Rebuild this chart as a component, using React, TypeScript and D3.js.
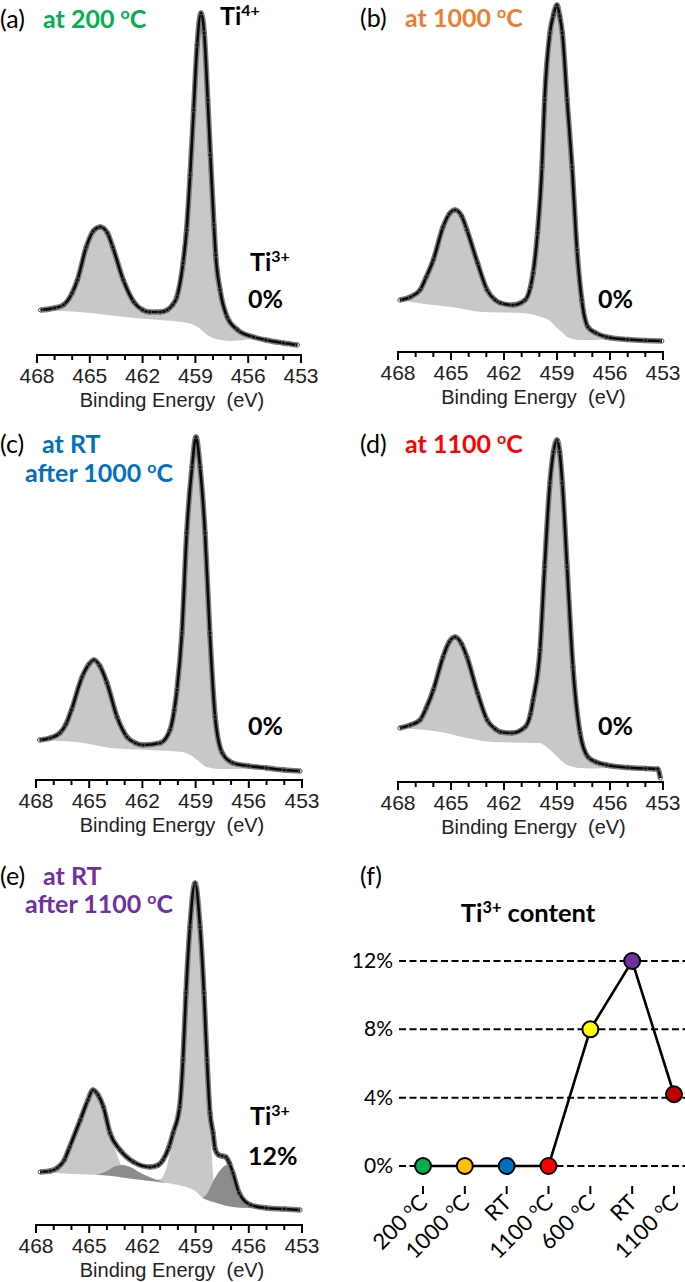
import React from 'react';
import * as d3 from 'd3';

// ---- (a) at 200 C ----
const energyA = [467.8, 467.0, 466.5, 466.0, 465.7, 465.2, 464.8, 464.4, 464.0, 463.7, 463.1, 462.5, 462.0, 461.6, 461.0, 460.6, 460.3, 460.05, 459.7, 459.5, 459.3, 459.1, 458.9, 458.68, 458.5, 458.3, 458.15, 457.95, 457.85, 457.6, 457.2, 456.6, 455.7, 455.0, 454.0, 453.2];
const countsA = [45, 47, 50, 62, 75, 108, 124, 128, 122, 108, 75, 53, 45, 43, 43, 45, 50, 58, 92, 125, 180, 245, 310, 342, 322, 255, 200, 130, 100, 65, 38, 25, 18, 15, 12, 10];
const bgEnergyA = [467.8, 466.5, 465.0, 464.0, 462.5, 461.0, 459.8, 459.2, 458.8, 458.4, 458.0, 457.5, 457.0, 456.5, 455.7, 455.0, 454.0, 453.2];
const bgA = [45, 44, 42, 40, 37, 35, 33, 31, 27, 21, 17, 15, 14, 14.5, 16, 15, 12, 10];

// ---- (b) at 1000 C ----
const energyB = [467.9, 467.3, 466.75, 466.4, 466.0, 465.45, 465.1, 464.77, 464.4, 464.1, 463.5, 462.96, 462.5, 462.2, 461.5, 460.8, 460.5, 460.35, 460.1, 459.85, 459.7, 459.4, 459.2, 459.0, 458.85, 458.7, 458.43, 458.15, 457.87, 457.6, 457.25, 456.8, 456.2, 455.0, 454.0, 453.06];
const countsB = [52, 55, 62, 75, 92, 125, 138, 142, 136, 122, 89, 62, 52, 49, 47, 52, 65, 79, 119, 185, 252, 319, 337, 347, 336, 319, 252, 185, 102, 52, 25, 19, 15, 12.5, 11.5, 11];
const bgEnergyB = [467.9, 466.5, 465.0, 463.2, 461.0, 459.9, 459.4, 459.0, 458.6, 458.43, 457.7, 457.0, 456.2, 455.0, 454.0, 453.06];
const bgB = [50, 48, 45, 40, 39, 35, 31, 24, 18, 15, 12, 12, 12.5, 12.5, 11.5, 11];

// ---- (c) at RT after 1000 C ----
const energyC = [467.8, 467.2, 466.65, 466.3, 466.0, 465.4, 465.0, 464.73, 464.4, 464.0, 463.43, 462.87, 462.4, 461.97, 461.0, 460.44, 460.2, 460.05, 459.77, 459.5, 459.2, 458.98, 458.75, 458.47, 458.2, 457.9, 457.5, 456.9, 456.0, 455.0, 454.0, 453.1];
const countsC = [40, 42, 47, 56, 70, 103, 116, 120, 114, 97, 63, 43, 37, 35, 37, 50, 70, 90, 147, 247, 313, 343, 313, 247, 147, 63, 27, 17, 14, 12, 10, 9];
const bgEnergyC = [467.8, 465.3, 463.8, 461.6, 459.77, 459.3, 458.9, 458.4, 457.6, 456.9, 456.0, 455.0, 454.0, 453.1];
const bgC = [40, 37, 32, 30, 28, 25, 20, 13, 11, 11, 11.5, 11.5, 10, 9];

// ---- (d) at 1100 C ----
const energyD = [467.9, 467.3, 466.75, 466.4, 466.0, 465.45, 465.1, 464.77, 464.4, 464.1, 463.5, 462.96, 462.5, 462.2, 461.55, 460.8, 460.5, 460.35, 459.96, 459.7, 459.4, 459.2, 459.0, 458.85, 458.7, 458.43, 458.1, 457.7, 457.25, 456.8, 456.2, 455.0, 454.0, 453.3, 453.15];
const countsD = [54, 57, 62, 74, 92, 125, 140, 145, 138, 125, 89, 62, 53, 50, 49, 55, 68, 82, 132, 215, 299, 330, 342, 330, 299, 215, 115, 49, 25, 20, 17, 14.5, 13.5, 13, 4];
const bgEnergyD = [467.9, 465.6, 464.1, 462.6, 459.96, 459.6, 459.2, 458.8, 458.43, 457.7, 457.0, 456.2, 455.0, 454.0, 453.3, 453.15];
const bgD = [54, 50, 44, 40, 39, 35, 29, 22, 17, 14, 13.5, 14, 14.5, 13.5, 13, 4];

// ---- (e) at RT after 1100 C ----
const energyE = [467.77, 467.2, 466.8, 466.4, 466.1, 465.5, 465.07, 464.79, 464.5, 464.2, 463.83, 463.26, 462.5, 461.57, 461.1, 460.84, 460.5, 460.27, 459.9, 459.71, 459.54, 459.32, 459.03, 458.75, 458.53, 458.36, 458.19, 458.02, 457.9, 457.7, 457.5, 457.3, 457.1, 456.9, 456.55, 455.9, 455.0, 454.0, 453.1];
const countsE = [53, 54, 57, 65, 78, 105, 125, 135, 130, 118, 92, 75, 63, 58, 60, 65, 78, 92, 118, 165, 232, 298, 342, 298, 232, 165, 112, 92, 76, 70, 69, 68, 62, 52, 32, 20, 17, 16, 15];
const bgEnergyE = [467.77, 466.0, 464.4, 462.5, 460.6, 459.1, 458.6, 457.8, 456.9, 455.9, 455.0, 454.0, 453.1];
const bgE = [53, 51, 50, 46, 42, 35, 27, 22, 18, 17, 16.5, 16, 15];
const ti4EnergyE = [467.77, 466.8, 466.1, 465.5, 465.07, 464.79, 464.5, 464.2, 463.83, 463.5, 463.26, 462.9, 462.5, 462.0, 461.5, 461.0, 460.7, 460.45, 460.27, 459.9, 459.71, 459.54, 459.32, 459.03, 458.75, 458.53, 458.36, 458.19, 458.05, 457.95, 457.8, 457.5, 457.0, 456.5, 455.9];
const ti4E = [53, 57, 78, 105, 125, 135, 129, 116, 88, 74, 62, 52, 47, 45.5, 45, 46, 54, 72, 88, 116, 165, 232, 298, 342, 298, 232, 160, 100, 60, 35, 26, 23, 20, 18, 17];
const ti3aEnergyE = [464.6, 464.0, 463.5, 463.1, 462.7, 462.2, 461.6, 461.0, 460.6];
const ti3aE = [50, 54, 59, 60, 58, 53, 48, 44, 42];
const ti3bEnergyE = [458.6, 458.3, 458.0, 457.7, 457.45, 457.24, 457.0, 456.75, 456.55, 456.2, 455.9];
const ti3bE = [27, 33, 44, 53, 58, 60, 55, 43, 31, 22, 17];

// ---- (f) Ti3+ content ----
const stepTemps = ['200', '1000', 'RT', '1100', '600', 'RT', '1100'];
const ti3Content = [0, 0, 0, 0, 8, 12, 4.2];
const stepColors = ['#00b050', '#ffc000', '#0070c0', '#ff0000', '#ffff00', '#7030a0', '#c00000'];
const contentTicks = [0, 4, 8, 12];
const energyTicks = [468, 465, 462, 459, 456, 453];

type Pt = [number, number];
const zip = (e: number[], v: number[]): Pt[] => e.map((d, i) => [d, v[i]]);

const LIGHT = '#c8c8c8';
const DARK = '#8c8c8c';
const ARIAL = '"Liberation Sans", Arial, sans-serif';
const CAL = 'Lato, Carlito, Calibri, sans-serif';

// text with a superscript part: [text, isSup][]
function Rich({ x, y, parts, size, weight = 'normal', fill = '#000', anchor = 'start', transform }: any) {
  const up = size * 0.36;
  let raised = false;
  return (
    <text x={x} y={y} fontSize={size} fontWeight={weight} fill={fill} fontFamily={CAL}
      textAnchor={anchor} transform={transform}>
      {parts.map(([t, sup]: [string, boolean], i: number) => {
        let dy = 0;
        if (sup && !raised) { dy = -up; raised = true; }
        else if (!sup && raised) { dy = up; raised = false; }
        return <tspan key={i} dy={dy} fontSize={sup ? size * 0.64 : size}>{t}</tspan>;
      })}
    </text>
  );
}

function Spectrum({ x0, x1, axisY, data, bg, light, dark }: any) {
  const x = d3.scaleLinear().domain([468, 453]).range([x0, x1]);
  const y = d3.scaleLinear().domain([0, 345]).range([axisY, axisY - 345]);
  const line = d3.line<Pt>().x(d => x(d[0])).y(d => y(d[1])).curve(d3.curveMonotoneX);

  const fillBetween = (upper: Pt[], lower: Pt[]) => {
    const hi = upper[0][0];
    const lo = upper[upper.length - 1][0];
    const inner = lower.filter(p => p[0] < hi && p[0] > lo).reverse();
    const bottom: Pt[] = [[lo, upper[upper.length - 1][1]], ...inner, [hi, upper[0][1]]];
    return line(upper) + 'L' + (line(bottom) as string).slice(1) + 'Z';
  };

  const minor = d3.range(453, 469);
  return (
    <g>
      {light
        ? <path d={fillBetween(light, bg)} fill={LIGHT} />
        : <path d={fillBetween(data, bg)} fill={LIGHT} />}
      {dark && dark.map((c: Pt[], i: number) => <path key={i} d={fillBetween(c, bg)} fill={DARK} />)}
      <path d={line(data) as string} fill="none" stroke="#7d7d7d" strokeWidth={5.5} />
      <path d={line(data) as string} fill="none" stroke="#0a0a0a" strokeWidth={2.6} />
      {data.map((d: Pt, i: number) => (
        <circle key={i} cx={x(d[0])} cy={y(d[1])} r={2} fill="none" stroke="#555" strokeWidth={1} />
      ))}
      <line x1={x(468) - 1} x2={x(453) + 1} y1={axisY} y2={axisY} stroke="#000" strokeWidth={2} />
      {minor.map(e => {
        const major = (468 - e) % 3 === 0;
        return <line key={e} x1={x(e)} x2={x(e)} y1={axisY} y2={axisY + (major ? 8 : 5)} stroke="#000" strokeWidth={2} />;
      })}
      {energyTicks.map(e => (
        <text key={e} x={x(e)} y={axisY + 28} textAnchor="middle" fontSize={21} fontFamily={ARIAL} fill="#222">{e}</text>
      ))}
      <text x={(x0 + x1) / 2 + 3} y={axisY + 52} textAnchor="middle" fontSize={20} fontFamily={ARIAL} fill="#222">
        {'Binding Energy\u00a0 (eV)'}
      </text>
    </g>
  );
}

function Content() {
  const fx = d3.scalePoint<number>().domain(d3.range(stepTemps.length)).range([423, 674]);
  const fy = d3.scaleLinear().domain([0, 12]).range([1166, 961]);
  const line = d3.line<number>().x((_, i) => fx(i) as number).y(d => fy(d));
  return (
    <g>
      <Rich x={360} y={885} size={25} parts={[['(f)', false]]} />
      <Rich x={528} y={922} size={25.5} weight="bold" anchor="middle" parts={[['Ti', false], ['3+', true], [' content', false]]} />
      {contentTicks.map(t => (
        <g key={t}>
          <line x1={399} x2={685} y1={fy(t)} y2={fy(t)} stroke="#000" strokeWidth={2} strokeDasharray="7,3.5" />
          <text x={393} y={fy(t) + 7} textAnchor="end" fontSize={21} fontFamily={CAL}>{t + '%'}</text>
        </g>
      ))}
      <path d={line(ti3Content) as string} fill="none" stroke="#000" strokeWidth={2.6} />
      {ti3Content.map((v, i) => (
        <circle key={i} cx={fx(i)} cy={fy(v)} r={8} fill={stepColors[i]} stroke="#000" strokeWidth={2} />
      ))}
      {stepTemps.map((t, i) => {
        const px = fx(i) as number;
        const parts = t === 'RT' ? [['RT', false]] : [[t + ' ', false], ['o', true], ['C', false]];
        return (
          <g key={i}>
            <line x1={px} x2={px} y1={1186} y2={1194} stroke="#000" strokeWidth={2} />
            <Rich x={0} y={0} size={22} anchor="end" parts={parts}
              transform={`translate(${px + 6},${1204}) rotate(-45)`} />
          </g>
        );
      })}
    </g>
  );
}

export default function App() {
  const deg = (s: string) => [[s + ' ', false], ['o', true], ['C', false]];
  return (
    <svg width={685} height={1282} style={{ position: 'absolute', left: 0, top: 0, background: '#fff' }}>
      <rect width={685} height={1282} fill="#fff" />
      <Spectrum x0={37} x1={301} axisY={355} data={zip(energyA, countsA)} bg={zip(bgEnergyA, bgA)} />
      <Spectrum x0={398} x1={663} axisY={352} data={zip(energyB, countsB)} bg={zip(bgEnergyB, bgB)} />
      <Spectrum x0={36} x1={302} axisY={780} data={zip(energyC, countsC)} bg={zip(bgEnergyC, bgC)} />
      <Spectrum x0={398} x1={663} axisY={782} data={zip(energyD, countsD)} bg={zip(bgEnergyD, bgD)} />
      <Spectrum x0={36} x1={302} axisY={1225} data={zip(energyE, countsE)} bg={zip(bgEnergyE, bgE)}
        light={zip(ti4EnergyE, ti4E)} dark={[zip(ti3aEnergyE, ti3aE), zip(ti3bEnergyE, ti3bE)]} />

      {/* (a) */}
      <Rich x={0} y={28} size={25} parts={[['(a)', false]]} />
      <Rich x={43} y={28} size={25} weight="bold" fill="#00b050" parts={deg('at 200')} />
      <Rich x={220} y={25} size={25} weight="bold" parts={[['Ti', false], ['4+', true]]} />
      <Rich x={250} y={271} size={25} weight="bold" parts={[['Ti', false], ['3+', true]]} />
      <Rich x={248} y={308} size={25} weight="bold" parts={[['0%', false]]} />
      {/* (b) */}
      <Rich x={360} y={27} size={25} parts={[['(b)', false]]} />
      <Rich x={405} y={27} size={25} weight="bold" fill="#ed7d31" parts={deg('at 1000')} />
      <Rich x={598} y={308} size={25} weight="bold" parts={[['0%', false]]} />
      {/* (c) */}
      <Rich x={0} y={453} size={25} parts={[['(c)', false]]} />
      <Rich x={42} y={453} size={25} weight="bold" fill="#0070c0" parts={[['at RT', false]]} />
      <Rich x={25} y={482} size={25} weight="bold" fill="#0070c0" parts={deg('after 1000')} />
      <Rich x={248} y={735} size={25} weight="bold" parts={[['0%', false]]} />
      {/* (d) */}
      <Rich x={360} y={453} size={25} parts={[['(d)', false]]} />
      <Rich x={405} y={453} size={25} weight="bold" fill="#ff0000" parts={deg('at 1100')} />
      <Rich x={598} y={735} size={25} weight="bold" parts={[['0%', false]]} />
      {/* (e) */}
      <Rich x={0} y={885} size={25} parts={[['(e)', false]]} />
      <Rich x={43} y={885} size={25} weight="bold" fill="#7030a0" parts={[['at RT', false]]} />
      <Rich x={25} y={913} size={25} weight="bold" fill="#7030a0" parts={deg('after 1100')} />
      <Rich x={250} y={1125} size={25} weight="bold" parts={[['Ti', false], ['3+', true]]} />
      <Rich x={248} y={1165} size={25} weight="bold" parts={[['12%', false]]} />

      <Content />
    </svg>
  );
}
